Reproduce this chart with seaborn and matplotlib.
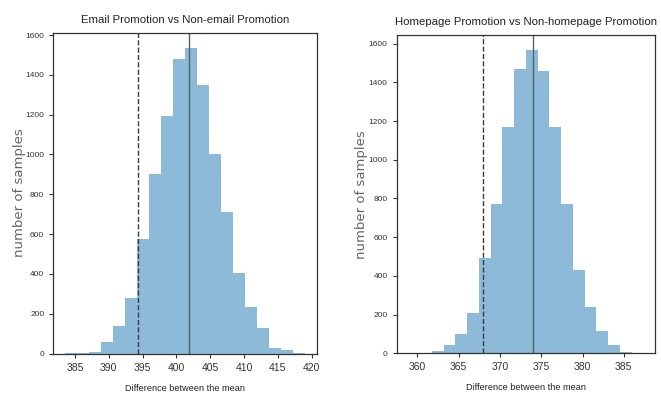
import numpy as np
import pandas as pd
import matplotlib
matplotlib.use("Agg")
import matplotlib.pyplot as plt
import seaborn as sns

# Bootstrap distributions of the difference between group means (20 bins each)
email_bin_start = 383.57
email_bin_width = 1.77
email_counts = [2, 3, 10, 60, 137, 280, 575, 901, 1192, 1479,
                1535, 1348, 1004, 713, 403, 233, 130, 27, 17, 5]
email_observed = 394.36
email_mean = 401.82

home_bin_start = 358.9
home_bin_width = 1.423
home_counts = [1, 2, 10, 43, 98, 209, 494, 769, 1167, 1468,
               1566, 1459, 1167, 769, 433, 240, 115, 43, 8, 2]
home_observed = 367.98
home_mean = 373.95

titles = ["Email Promotion vs Non-email Promotion",
          "Homepage Promotion vs Non-homepage Promotion"]
x_label = "Difference between the mean"
y_label = "number of samples"

sns.set_style("ticks")
plt.rcParams["font.family"] = ["Liberation Sans", "DejaVu Sans"]

fig = plt.figure(figsize=(6.61, 3.99), dpi=100)
ax1 = fig.add_axes([0.0806, 0.114, 0.3985, 0.804])
ax2 = fig.add_axes([0.600, 0.1145, 0.391, 0.7975])

panels = [
    (ax1, email_bin_start, email_bin_width, email_counts, email_observed, email_mean, titles[0]),
    (ax2, home_bin_start, home_bin_width, home_counts, home_observed, home_mean, titles[1]),
]

for ax, start, width, counts, observed, mean, title in panels:
    counts = np.asarray(counts, dtype=float)
    edges = [start + width * i for i in range(len(counts) + 1)]
    centers = [(edges[i] + edges[i + 1]) / 2 for i in range(len(counts))]
    df = pd.DataFrame({"diff": centers, "n": counts})
    sns.histplot(data=df, x="diff", weights="n", bins=edges, ax=ax,
                 color="#1f77b4", alpha=0.5, linewidth=0, stat="count")
    ax.axvline(observed, color="#3c3c3c", linestyle="--", linewidth=1.0)
    ax.axvline(mean, color="#4f6468", linestyle="-", linewidth=1.0)
    ax.margins(x=0.05)
    ax.set_title(title, fontsize=8.2, color="#222222", pad=7)
    ax.set_xlabel(x_label, fontsize=6.6, color="#222222", labelpad=8)
    ax.set_ylabel(y_label, fontsize=9.5, color="#666666", family="DejaVu Sans")
    ax.tick_params(axis="x", labelsize=7.5, length=3, width=0.8, colors="#333333")
    ax.tick_params(axis="y", labelsize=6, length=3, width=0.8, colors="#333333")
    for side in ["top", "right", "left", "bottom"]:
        ax.spines[side].set_visible(True)
        ax.spines[side].set_color("#333333")
        ax.spines[side].set_linewidth(0.9)

# place y labels at fixed figure positions
for ax, px in [(ax1, 26), (ax2, 368)]:
    fig_x = px / 661
    ax_pos = ax.get_position()
    ax.yaxis.set_label_coords((fig_x - ax_pos.x0) / ax_pos.width, 0.5)

fig.savefig("out.png", dpi=100)
